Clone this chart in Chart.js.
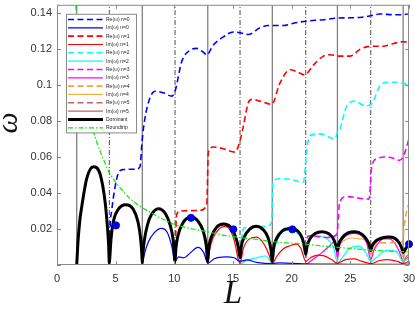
<!DOCTYPE html>
<html>
<head>
<meta charset="utf-8">
<script src="https://cdn.jsdelivr.net/npm/chart.js"></script>
<style>
  html, body { margin: 0; padding: 0; background: #fff; }
  canvas { display: block; }
</style>
</head>
<body>
<canvas id="chart" width="415" height="314"></canvas>
<script>
// resonance lengths (vertical guide lines), solid / dash-dot alternating
const resonanceL = [1.68, 4.46, 7.27, 10.06, 12.85, 15.6, 18.35, 21.2, 23.9, 26.74, 29.5];

const xTicks = [0, 5, 10, 15, 20, 25, 30];
const yTicks = [0, 0.02, 0.04, 0.06, 0.08, 0.1, 0.12, 0.14];

// [L, omega]
const reN0 = [[4.46,0.0],[4.52,0.02],[4.66,0.03],[4.94,0.043],[5.23,0.051],[5.65,0.053],[6.65,0.0532],[7.07,0.0545],[7.22,0.066],[7.36,0.0755],[7.78,0.090],[8.35,0.0965],[9.06,0.0956],[9.78,0.0938],[10.06,0.0965],[10.63,0.113],[11.34,0.1193],[11.9,0.1203],[12.5,0.118],[12.76,0.1166],[13.3,0.122],[14.18,0.1267],[15.03,0.1294],[15.6,0.129],[16.3,0.128],[17.3,0.1318],[18.0,0.133],[19.3,0.133],[20.15,0.1343],[21.3,0.1355],[22.7,0.1362],[23.85,0.1371],[25.0,0.1373],[25.97,0.1376],[26.8,0.1385],[27.5,0.1394],[28.7,0.139],[29.5,0.139],[30,0.1396]];
const imN0 = [[7.27,0.0],[7.45,0.006],[7.8,0.013],[8.3,0.018],[8.9,0.0203],[9.4,0.018],[9.8,0.010],[10.06,0.002],[10.35,0.0045],[10.8,0.004],[11.4,0.007],[12.0,0.0098],[12.5,0.007],[12.85,0.001],[13.4,0.0035],[14.4,0.0045],[15.1,0.004],[15.6,0.002],[16.2,0.0028],[17.0,0.0015],[18.35,0.0008],[19.0,0.0012],[21.0,0.0006],[23.0,0.0005],[25.0,0.0004],[30,0.0003]];
const reN1 = [[10.06,0.0],[10.12,0.018],[10.2,0.028],[10.49,0.0299],[11.4,0.0302],[12.2,0.0304],[12.76,0.0335],[12.9,0.0627],[13.33,0.0655],[14.18,0.0646],[15.17,0.0627],[15.6,0.069],[15.88,0.077],[16.3,0.090],[16.6,0.092],[17.3,0.091],[18.3,0.0892],[19.0,0.101],[19.86,0.1084],[20.4,0.1075],[21.1,0.1056],[21.85,0.111],[22.7,0.116],[23.3,0.1168],[24.0,0.116],[25.0,0.116],[25.8,0.1197],[26.8,0.1215],[27.8,0.1215],[28.7,0.123],[29.5,0.124],[30,0.1238]];
const imN1 = [[12.85,0.0],[13.0,0.008],[13.3,0.015],[13.9,0.0205],[14.3,0.0215],[14.8,0.019],[15.2,0.011],[15.45,0.003],[15.6,0.001],[15.9,0.0095],[16.4,0.0145],[17.0,0.0155],[17.5,0.013],[18.0,0.007],[18.35,0.001],[18.75,0.005],[19.3,0.009],[19.86,0.0107],[20.4,0.0116],[20.8,0.009],[21.2,0.002],[21.6,0.004],[22.2,0.0055],[22.7,0.0052],[23.4,0.003],[23.9,0.001],[24.6,0.003],[25.3,0.0034],[26.0,0.002],[26.74,0.0008],[27.5,0.0025],[28.2,0.003],[29.0,0.002],[29.5,0.0008],[30,0.002]];
const reN2 = [[15.6,0.003],[15.75,0.016],[16.0,0.0207],[17.0,0.021],[17.9,0.0216],[18.3,0.024],[18.4,0.046],[19.0,0.048],[19.86,0.0476],[21.0,0.046],[21.3,0.0646],[21.57,0.0719],[22.4,0.0728],[23.7,0.070],[23.9,0.074],[24.1,0.0755],[24.7,0.0884],[25.4,0.091],[26.25,0.0884],[26.8,0.0893],[27.5,0.0993],[28.25,0.1015],[28.96,0.1015],[29.5,0.101],[30,0.0997]];
const imN2 = [[15.6,0.0],[16.0,0.002],[17.0,0.004],[17.8,0.005],[18.35,0.001],[18.55,0.009],[18.75,0.0134],[19.15,0.018],[19.9,0.0195],[20.6,0.017],[21.0,0.0116],[21.2,0.004],[21.43,0.0125],[22.14,0.0162],[22.6,0.0158],[23.2,0.0135],[23.6,0.009],[23.9,0.001],[24.3,0.004],[25.0,0.0096],[25.8,0.0105],[26.4,0.006],[26.74,0.002],[27.2,0.004],[27.8,0.0075],[28.4,0.0082],[29.0,0.007],[29.5,0.002],[30,0.004]];
const reN3 = [[21.2,0.004],[21.3,0.013],[21.4,0.0162],[22.2,0.0158],[23.0,0.0153],[23.85,0.017],[24.1,0.0353],[24.7,0.038],[25.8,0.0371],[26.6,0.0366],[26.8,0.0536],[27.25,0.059],[28.24,0.060],[29.2,0.0582],[29.5,0.060],[29.66,0.0627],[29.95,0.069],[30,0.070]];
const imN3 = [[21.2,0.0],[21.8,0.003],[22.6,0.007],[23.3,0.011],[23.7,0.0134],[23.9,0.004],[24.05,0.010],[24.3,0.014],[24.8,0.0168],[25.4,0.0176],[26.0,0.016],[26.4,0.012],[26.74,0.003],[27.0,0.008],[27.3,0.0114],[27.8,0.0145],[28.3,0.0145],[28.8,0.012],[29.2,0.007],[29.5,0.002],[30,0.005]];
const reN4 = [[26.74,0.006],[26.85,0.011],[27.0,0.0125],[28.0,0.0123],[29.0,0.0125],[29.45,0.013],[29.6,0.022],[29.8,0.030],[30,0.034]];
const imN4 = [[23.9,0.0],[24.0,0.008],[24.2,0.012],[24.6,0.014],[25.0,0.015],[25.8,0.0145],[26.4,0.0133],[26.6,0.010],[26.74,0.002],[27.0,0.009],[27.5,0.0142],[28.25,0.015],[28.9,0.014],[29.3,0.010],[29.5,0.002],[29.7,0.008],[30,0.011]];
const reN5 = [];
const imN5 = [[29.5,0.0],[29.7,0.004],[30,0.006]];

const dominant = [[1.68,0],[1.8,0.014],[1.95,0.025],[2.1,0.032],[2.53,0.048],[3.1,0.0545],[3.67,0.0505],[4.09,0.0355],[4.3,0.021],[4.4,0.011],[4.46,0.001],
  [4.52,0.006],[4.6,0.014],[4.8,0.024],[5.23,0.031],[5.85,0.0335],[6.5,0.031],[6.9,0.024],[7.12,0.015],[7.22,0.007],[7.27,0.001],
  [7.33,0.007],[7.45,0.014],[7.7,0.022],[8.05,0.028],[8.64,0.0313],[9.25,0.0285],[9.65,0.022],[9.9,0.014],[10.06,0.002],
  [10.13,0.009],[10.3,0.016],[10.7,0.023],[11.42,0.0266],[12.0,0.0245],[12.45,0.019],[12.72,0.011],[12.85,0.002],
  [12.93,0.009],[13.15,0.0155],[13.6,0.021],[14.2,0.0228],[14.8,0.021],[15.2,0.016],[15.45,0.010],[15.6,0.004],
  [15.7,0.010],[15.95,0.0155],[16.4,0.0198],[16.95,0.0215],[17.6,0.0195],[18.0,0.015],[18.25,0.008],[18.35,0.002],
  [18.45,0.009],[18.7,0.0145],[19.2,0.019],[19.9,0.0203],[20.5,0.019],[20.9,0.015],[21.1,0.0095],[21.2,0.006],
  [21.3,0.010],[21.55,0.0145],[22.0,0.0175],[22.6,0.0185],[23.2,0.0172],[23.6,0.014],[23.8,0.010],[23.9,0.008],
  [24.0,0.0115],[24.3,0.015],[24.8,0.0178],[25.4,0.0184],[26.0,0.017],[26.4,0.014],[26.62,0.011],[26.74,0.008],
  [26.85,0.0105],[27.2,0.0135],[27.7,0.015],[28.25,0.0155],[28.8,0.0148],[29.2,0.012],[29.4,0.009],[29.5,0.007],
  [29.7,0.009],[30,0.0116]];
const roundtrip = [[1.6,0.144],[1.8,0.128],[2.1,0.11],[2.5,0.092],[3.0,0.077],[3.4,0.068],[4.0,0.058],[4.4,0.052],[5.0,0.046],[5.5,0.042],[6.2,0.037],[7.0,0.033],[8.0,0.029],[9.0,0.0255],[9.9,0.0228],[11.0,0.0208],[12.0,0.0195],[12.8,0.0185],[14.0,0.0168],[15.6,0.0152],[17.0,0.0142],[18.35,0.013],[19.8,0.0122],[21.2,0.0116],[22.5,0.0106],[23.9,0.0098],[25.3,0.009],[26.74,0.0083],[28.0,0.0078],[29.5,0.0074],[30,0.0072]];
const markers = [[5.03,0.022],[11.42,0.0262],[15.03,0.0198],[20.06,0.0198],[30.0,0.0116]];

const yMax = 0.1445;
const pts = a => a.map(([x, y]) => ({x, y}));

const series = [
  ['Re(\u03c9) n=0', reN0, '#0000ff', 'dash'],
  ['Im(\u03c9) n=0', imN0, '#0000ff', 'solid'],
  ['Re(\u03c9) n=1', reN1, '#ff0000', 'dash'],
  ['Im(\u03c9) n=1', imN1, '#ff0000', 'solid'],
  ['Re(\u03c9) n=2', reN2, '#00ffff', 'dash'],
  ['Im(\u03c9) n=2', imN2, '#00ffff', 'solid'],
  ['Re(\u03c9) n=3', reN3, '#ff00ff', 'dash'],
  ['Im(\u03c9) n=3', imN3, '#ff00ff', 'solid'],
  ['Re(\u03c9) n=4', reN4, '#eea830', 'dash'],
  ['Im(\u03c9) n=4', imN4, '#f2b440', 'solid'],
  ['Re(\u03c9) n=5', reN5, '#c0606e', 'dash'],
  ['Im(\u03c9) n=5', imN5, '#c0606e', 'solid'],
];

const datasets = [];

resonanceL.forEach((L, i) => {
  datasets.push({
    data: [{x: L, y: 0}, {x: L, y: yMax}],
    borderColor: i % 2 ? '#3a3a3a' : '#808080',
    borderWidth: i % 2 ? 0.9 : 1.3,
    borderDash: i % 2 ? [5, 2, 1, 2] : [],
    pointRadius: 0,
    order: 100
  });
});

series.forEach(([label, data, color, kind]) => {
  datasets.push({
    label, data: pts(data),
    borderColor: color,
    borderWidth: kind === 'dash' ? 1.6 : 1.2,
    borderDash: kind === 'dash' ? [6, 3.5] : [],
    pointRadius: 0,
    cubicInterpolationMode: 'monotone',
    inLegend: true,
    order: kind === 'dash' ? 40 : 50
  });
});

datasets.push({
  label: 'Dominant', data: pts(dominant),
  borderColor: '#000', borderWidth: 3,
  pointRadius: 0, cubicInterpolationMode: 'monotone',
  inLegend: true, order: 20
});
datasets.push({
  label: 'Roundtrip', data: pts(roundtrip),
  borderColor: '#00ee00', borderWidth: 1.2, borderDash: [5, 2, 1.5, 2],
  pointRadius: 0, cubicInterpolationMode: 'monotone',
  inLegend: true, order: 10
});
datasets.push({
  data: pts(markers), showLine: false,
  pointRadius: 3.6, pointBackgroundColor: '#0000ee', pointBorderColor: '#0000cc',
  pointBorderWidth: 0.8, order: 0, clip: 6
});

// box + inward ticks, MATLAB style
const framePlugin = {
  id: 'frame',
  afterDatasetsDraw(chart) {
    const {ctx, chartArea: a, scales: {x, y}} = chart;
    ctx.save();
    ctx.strokeStyle = '#8a8a8a';
    ctx.lineWidth = 1;
    ctx.strokeRect(a.left + 0.5, a.top + 0.5, a.right - a.left - 1, a.bottom - a.top - 1);
    ctx.beginPath();
    x.ticks.forEach(t => {
      const px = Math.round(x.getPixelForValue(t.value)) + 0.5;
      ctx.moveTo(px, a.bottom); ctx.lineTo(px, a.bottom - 4);
      ctx.moveTo(px, a.top); ctx.lineTo(px, a.top + 4);
    });
    y.ticks.forEach(t => {
      const py = Math.round(y.getPixelForValue(t.value)) + 0.5;
      ctx.moveTo(a.left, py); ctx.lineTo(a.left + 4, py);
      ctx.moveTo(a.right, py); ctx.lineTo(a.right - 4, py);
    });
    ctx.stroke();
    ctx.restore();
  }
};

// legend box inside the plot, top-left
const legendPlugin = {
  id: 'boxLegend',
  afterDatasetsDraw(chart) {
    const {ctx, chartArea: a} = chart;
    const items = chart.data.datasets.filter(d => d.inLegend);
    const left = a.left + 9, top = a.top + 9, w = 70, rowH = 8.33;
    const h = items.length * rowH + 2;
    ctx.save();
    ctx.fillStyle = '#fff';
    ctx.fillRect(left, top, w, h);
    ctx.strokeStyle = '#8a8a8a';
    ctx.lineWidth = 1;
    ctx.strokeRect(left + 0.5, top + 0.5, w, h);
    ctx.font = '5px "Liberation Sans", Arial, sans-serif';
    ctx.textBaseline = 'middle';
    items.forEach((d, i) => {
      const cy = top + 5.7 + i * rowH;
      ctx.strokeStyle = d.borderColor;
      ctx.lineWidth = d.borderWidth;
      ctx.setLineDash(d.borderDash || []);
      ctx.beginPath();
      ctx.moveTo(left + 2, cy); ctx.lineTo(left + 37, cy);
      ctx.stroke();
      ctx.setLineDash([]);
      ctx.fillStyle = '#222';
      ctx.fillText(d.label, left + 40, cy);
    });
    ctx.restore();
  }
};

// axis titles
const titlePlugin = {
  id: 'titles',
  afterDraw(chart) {
    const {ctx, chartArea: a} = chart;
    ctx.save();
    ctx.fillStyle = '#111';
    ctx.font = 'italic 33px "Liberation Serif", "DejaVu Serif", serif';
    ctx.textAlign = 'center';
    ctx.textBaseline = 'alphabetic';
    ctx.fillText('L', (a.left + a.right) / 2, 303);
    ctx.font = 'italic 30px "Liberation Serif", "DejaVu Serif", serif';
    ctx.translate(17, 123);
    ctx.rotate(-Math.PI / 2);
    ctx.fillText('\u03c9', 0, 0);
    ctx.restore();
  }
};

new Chart(document.getElementById('chart'), {
  type: 'line',
  data: { datasets },
  options: {
    responsive: false,
    animation: false,
    layout: { padding: { top: 1, right: 6, left: 0, bottom: 0 } },
    plugins: { legend: { display: false }, tooltip: { enabled: false } },
    scales: {
      x: {
        type: 'linear', min: 0, max: 30,
        grid: { display: false, drawTicks: false },
        border: { display: false },
        afterBuildTicks: s => { s.ticks = xTicks.map(v => ({value: v})); },
        afterFit: s => { s.height = 49; s.paddingLeft = 0; s.paddingRight = 0; },
        ticks: { color: '#333', padding: 7, maxRotation: 0,
                 font: { size: 11, family: '"Liberation Sans", Arial, sans-serif' } }
      },
      y: {
        min: 0, max: yMax,
        grid: { display: false, drawTicks: false },
        border: { display: false },
        afterBuildTicks: s => { s.ticks = yTicks.map(v => ({value: v})); },
        afterFit: s => { s.width = 57; s.paddingTop = 0; s.paddingBottom = 0; },
        ticks: { color: '#333', padding: 5,
                 font: { size: 11, family: '"Liberation Sans", Arial, sans-serif' },
                 callback: v => v === 0 ? '' : String(+v.toFixed(2)) }
      }
    }
  },
  plugins: [framePlugin, legendPlugin, titlePlugin]
});
</script>
</body>
</html>
